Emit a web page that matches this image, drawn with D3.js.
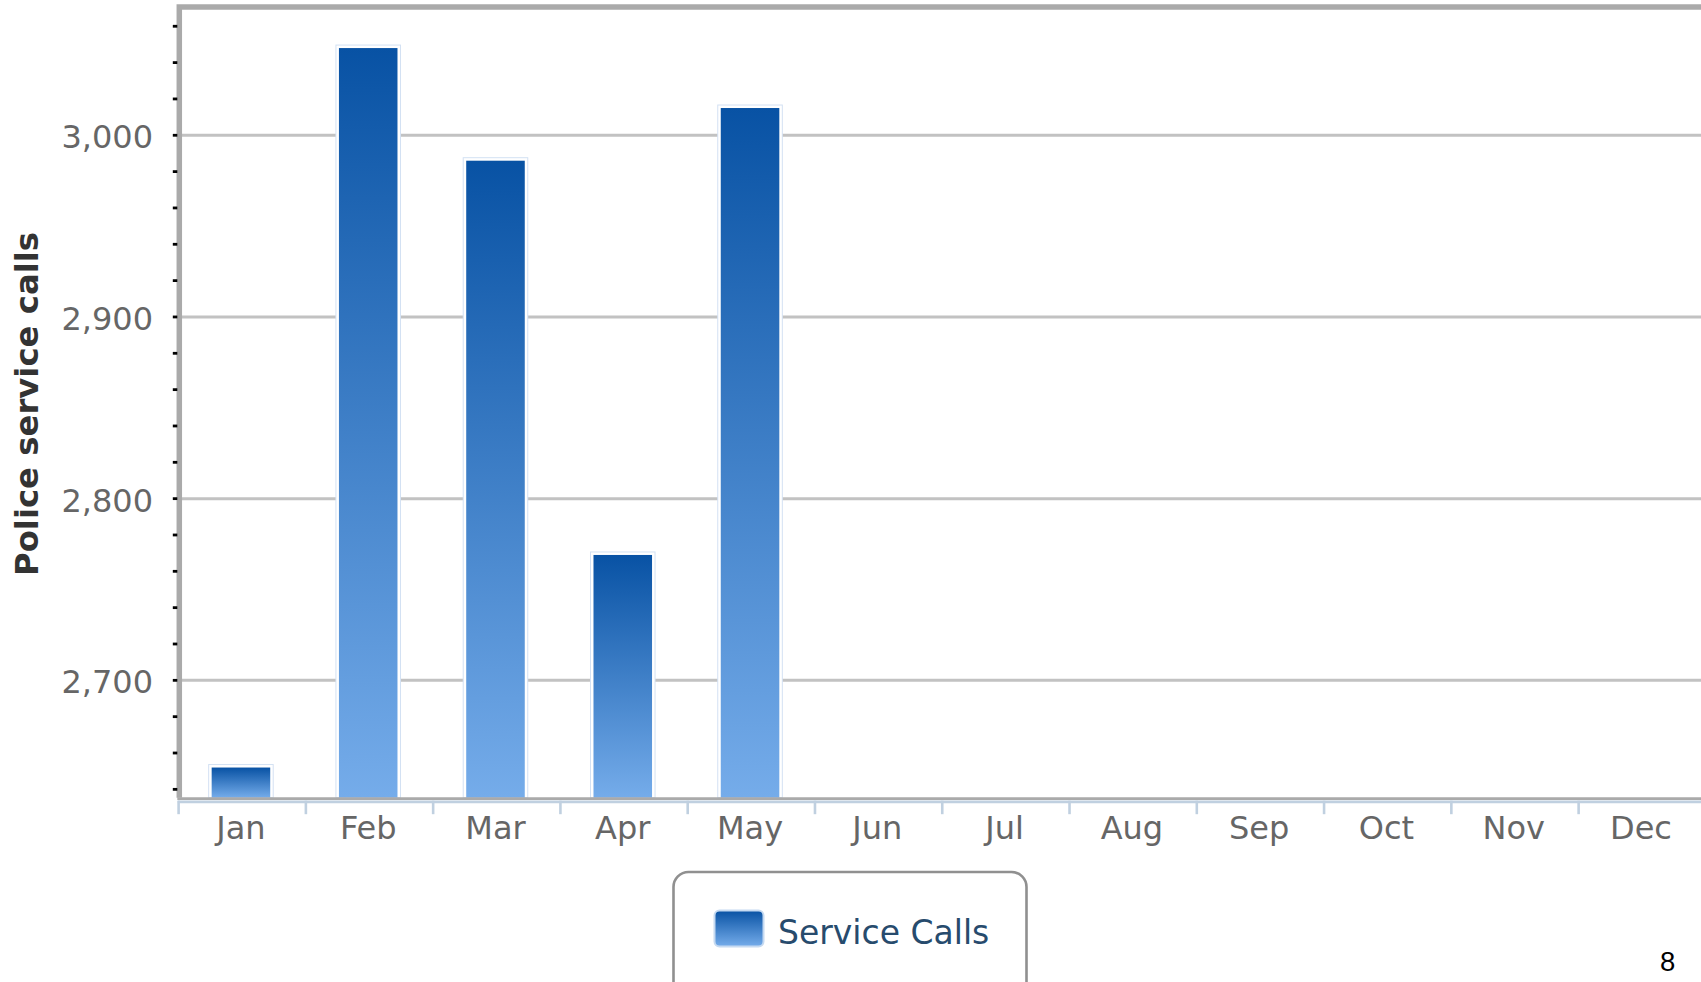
<!DOCTYPE html>
<html>
<head>
<meta charset="utf-8">
<script src="https://cdn.jsdelivr.net/npm/d3@7/dist/d3.min.js"></script>
<style>
  html, body { margin: 0; padding: 0; background: #fff; overflow: hidden; }
  svg { display: block; }
</style>
</head>
<body>
<svg id="chart" width="1701" height="982"></svg>
<script>
// ---- data ----
const months = ["Jan", "Feb", "Mar", "Apr", "May", "Jun", "Jul", "Aug", "Sep", "Oct", "Nov", "Dec"];
const serviceCalls = [2652, 3048, 2986, 2769, 3015, null, null, null, null, null, null, null];
const yMajorTicks = [2700, 2800, 2900, 3000];
const yMinorTicks = [2640, 2660, 2680, 2700, 2720, 2740, 2760, 2780, 2800, 2820, 2840, 2860, 2880, 2900, 2920, 2940, 2960, 2980, 3000, 3020, 3040, 3060];
const yDomain = [2635.4, 3070.6];
const seriesName = "Service Calls";
const yTitle = "Police service calls";
const pageNumber = "8";

// ---- layout ----
const plotLeft = 177.3, plotRight = 1704.6, plotTop = 7, plotBottom = 797.7;
const FONT = "'DejaVu Sans', sans-serif";

const svg = d3.select("#chart");
const defs = svg.append("defs");
const grad = defs.append("linearGradient").attr("id", "barGrad")
  .attr("x1", 0).attr("y1", 0).attr("x2", 0).attr("y2", 1);
grad.append("stop").attr("offset", "0%").attr("stop-color", "#0852a4");
grad.append("stop").attr("offset", "100%").attr("stop-color", "#75acea");

const x = d3.scaleBand().domain(months).range([plotLeft, plotRight]).paddingInner(0).paddingOuter(0);
const y = d3.scaleLinear().domain(yDomain).range([plotBottom, plotTop]);

// gridlines
svg.append("g").selectAll("line").data(yMajorTicks).join("line")
  .attr("x1", plotLeft + 3).attr("x2", 1701)
  .attr("y1", d => y(d)).attr("y2", d => y(d))
  .attr("stroke", "#c2c2c2").attr("stroke-width", 3);

// bars
const barW = x.bandwidth() * 0.46;
const data = months.map((m, i) => ({ m, v: serviceCalls[i] })).filter(d => d.v != null);
const bars = svg.append("g");
bars.selectAll("rect.back").data(data).join("rect").attr("class", "back")
  .attr("x", d => x(d.m) + (x.bandwidth() - barW) / 2 - 3)
  .attr("y", d => y(d.v) - 3)
  .attr("width", barW + 6)
  .attr("height", d => plotBottom - y(d.v) + 3)
  .attr("fill", "#ffffff").attr("stroke", "#d3e1f3").attr("stroke-width", 1);
bars.selectAll("rect.bar").data(data).join("rect").attr("class", "bar")
  .attr("x", d => x(d.m) + (x.bandwidth() - barW) / 2)
  .attr("y", d => y(d.v))
  .attr("width", barW)
  .attr("height", d => plotBottom - y(d.v))
  .attr("fill", "url(#barGrad)");

// plot border (left + top)
svg.append("path")
  .attr("d", `M${plotLeft + 2},${plotBottom} L${plotLeft + 2},${plotTop} L1710,${plotTop}`)
  .attr("fill", "none").attr("stroke", "#aaaaaa").attr("stroke-width", 5.5);

// x axis
svg.append("line").attr("x1", plotLeft).attr("x2", 1701)
  .attr("y1", plotBottom + 1).attr("y2", plotBottom + 1)
  .attr("stroke", "#aaaaaa").attr("stroke-width", 2.8);
const xAxis = d3.axisBottom(x).tickSize(0).tickPadding(0);
const gx = svg.append("g").attr("transform", `translate(0,${plotBottom + 3.6})`).call(xAxis);
gx.select(".domain").attr("stroke", "#c0d0e0").attr("stroke-width", 2.7);
gx.selectAll(".tick text")
  .attr("y", 0).attr("dy", 0)
  .attr("transform", "translate(0,38)")
  .attr("fill", "#666").style("font-family", FONT).style("font-size", "32px");
gx.selectAll(".tick line").remove();
// band boundary ticks
svg.append("g").selectAll("line").data(months.concat(["end"])).join("line")
  .attr("x1", (d, i) => plotLeft + 1.3 + i * x.step()).attr("x2", (d, i) => plotLeft + 1.3 + i * x.step())
  .attr("y1", plotBottom + 3).attr("y2", plotBottom + 16.5)
  .attr("stroke", "#c0d0e0").attr("stroke-width", 2.6);

// y axis minor ticks
svg.append("g").selectAll("line").data(yMinorTicks).join("line")
  .attr("x1", 172.8).attr("x2", 177.3)
  .attr("y1", d => y(d)).attr("y2", d => y(d))
  .attr("stroke", "#000").attr("stroke-width", 2.8);

// y axis labels
const yAxis = d3.axisLeft(y).tickValues(yMajorTicks).tickSize(0).tickPadding(0).tickFormat(d3.format(","));
const gy = svg.append("g").attr("transform", "translate(153,0)").call(yAxis);
gy.select(".domain").remove();
gy.selectAll(".tick text")
  .attr("x", 0).attr("dy", "12.5px")
  .attr("fill", "#666").style("font-family", FONT).style("font-size", "32px");

// y title
svg.append("text")
  .attr("transform", "translate(37.5,404) rotate(-90)")
  .attr("text-anchor", "middle")
  .attr("fill", "#333").style("font-family", FONT).style("font-size", "32.3px").style("font-weight", "bold")
  .text(yTitle);

// legend
const lg = svg.append("g");
lg.append("rect").attr("x", 673.5).attr("y", 872).attr("width", 353).attr("height", 140).attr("rx", 15)
  .attr("fill", "#fff").attr("stroke", "#909090").attr("stroke-width", 2.6);
lg.append("rect").attr("x", 714.5).attr("y", 910.5).attr("width", 49).attr("height", 36).attr("rx", 5)
  .attr("fill", "url(#barGrad)").attr("stroke", "#c6daf1").attr("stroke-width", 2);
lg.append("text").attr("x", 778).attr("y", 943.5)
  .attr("fill", "#274b6d").style("font-family", FONT).style("font-size", "33px")
  .text(seriesName);

// page number
svg.append("text").attr("x", 1660).attr("y", 971)
  .attr("fill", "#000").style("font-family", "'Liberation Sans', Arial, sans-serif").style("font-size", "27.5px")
  .text(pageNumber);
</script>
</body>
</html>
